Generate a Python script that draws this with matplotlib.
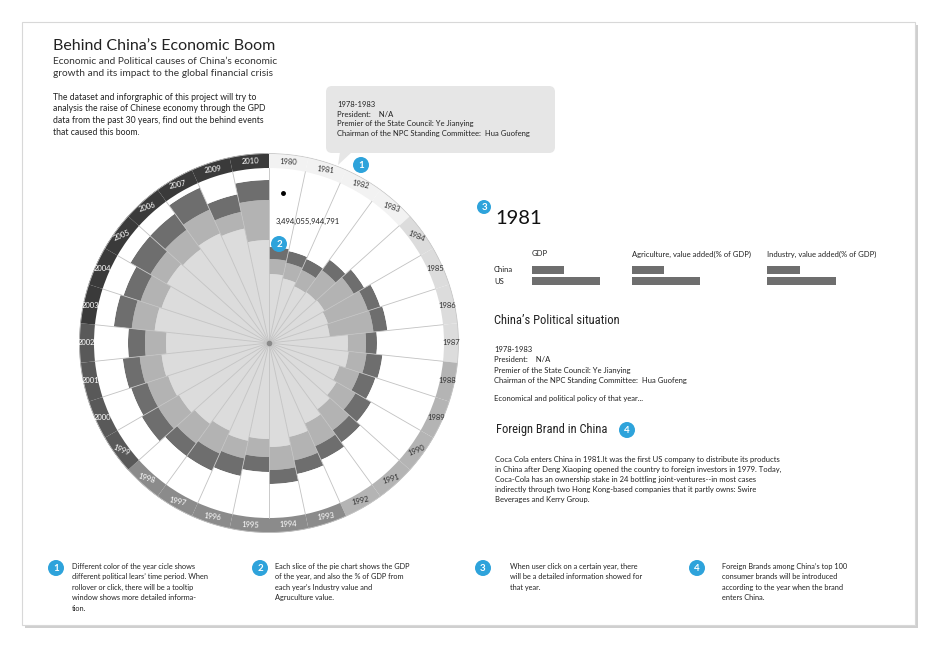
import numpy as np
import matplotlib.pyplot as plt
from matplotlib.patches import Rectangle, Circle, FancyBboxPatch, Polygon
from matplotlib import font_manager

plt.rcParams['font.family'] = ['Lato', 'DejaVu Sans']
names = {f.name for f in font_manager.fontManager.ttflist}
narrow = [n for n in ['Liberation Sans Narrow', 'DejaVu Sans Condensed', 'Roboto Condensed',
                      'Open Sans Condensed'] if n in names]
NARROW = narrow[:1] + ['Lato', 'DejaVu Sans']

# ring labels (the original skips 2008)
years = ['1980', '1981', '1982', '1983', '1984', '1985', '1986', '1987',
         '1988', '1989', '1990', '1991', '1992', '1993', '1994', '1995',
         '1996', '1997', '1998', '1999', '2000', '2001', '2002', '2003',
         '2004', '2005', '2006', '2007', '2009', '2010']
# cumulative radii of the three stacked layers (agriculture, industry, gdp)
inner_r = [69, 66, 62, 63, 64, 62, 61, 79, 80, 74, 78, 82, 88, 96, 104,
           96, 100, 96, 100, 104, 106, 108, 103, 115, 113, 118, 116, 120, 117, 103]
middle_r = [84, 82, 80, 90, 98, 104, 105, 97, 98, 95, 100, 108, 113, 120, 127,
            114, 118, 121, 124, 128, 128, 130, 124, 138, 135, 137, 140, 146, 134, 143]
outer_r = [96, 94, 92, 103, 110, 117, 119, 108, 114, 112, 118, 123, 128, 134, 141,
           129, 136, 140, 140, 147, 145, 147, 141, 156, 153, 160, 160, 170, 152, 163]
# political period of each year (index into period_colors)
period = [0] * 4 + [1] * 4 + [2] * 5 + [3] * 6 + [4] * 4 + [5] * 7
period_colors = ['#f2f2f2', '#dcdcdc', '#b4b4b4', '#8b8b8b', '#595959', '#3a3a3a']
period_text = ['#333333', '#333333', '#333333', 'white', 'white', 'white']

# 1981 comparison bars
bar_cols = ['GDP', 'Agriculture, value added(% of GDP)', 'Industry, value added(% of GDP)']
china_vals = [32, 32, 33]
us_vals = [68, 68, 69]

BLUE = '#2ea3db'
RING_IN, RING_OUT = 175, 190

fig = plt.figure(figsize=(9.4, 6.5), dpi=100)
fig.patch.set_facecolor('white')

bg = fig.add_axes([0, 0, 1, 1])
bg.set_xlim(0, 940)
bg.set_ylim(650, 0)
bg.axis('off')
bg.add_patch(Rectangle((25, 25), 893, 603, fc='#cfcfcf', ec='none'))
bg.add_patch(Rectangle((22, 22), 893, 603, fc='white', ec='#d8d8d8', lw=0.8))

# polar chart
cx, cy = 269, 343
pax = fig.add_axes([(cx - RING_OUT) / 940, (650 - cy - RING_OUT) / 650,
                    2 * RING_OUT / 940, 2 * RING_OUT / 650], projection='polar')
pax.set_theta_zero_location('N')
pax.set_theta_direction(-1)
pax.set_ylim(0, RING_OUT)
pax.axis('off')
pax.patch.set_alpha(0)

n = len(years)
w = 2 * np.pi / n
theta = (np.arange(n) + 0.5) * w
inner = np.array(inner_r)
middle = np.array(middle_r)
outer = np.array(outer_r)
pax.bar(theta, inner, width=w, color='#dcdcdc', edgecolor='none')
pax.bar(theta, middle - inner, bottom=inner, width=w, color='#b3b3b3', edgecolor='none')
pax.bar(theta, outer - middle, bottom=middle, width=w, color='#6e6e6e', edgecolor='none')
pax.bar(theta, RING_IN - outer, bottom=outer, width=w, color='white', edgecolor='none')
for b in np.arange(n) * w:
    pax.plot([b, b], [0, RING_IN], color='#c2c2c2', lw=0.6)
pax.bar(theta, RING_OUT - RING_IN, bottom=RING_IN, width=w,
        color=[period_colors[p] for p in period], edgecolor='none')
t = np.linspace(0, 2 * np.pi, 400)
pax.plot(t, np.full_like(t, RING_OUT - 0.5), color='#c8c8c8', lw=0.6)
for th, lab, p in zip(theta, years, period):
    tang = (-np.degrees(th) + 90) % 180 - 90
    rot = 0.42 * tang if abs(tang) <= 56 else 0
    pax.text(th, 182.5, lab, ha='center', va='center', fontsize=5.5,
             color=period_text[p], rotation=rot, rotation_mode='anchor')
pax.plot(0, 0, 'o', ms=3, color='#8a8a8a')

ov = fig.add_axes([0, 0, 1, 1])
ov.set_xlim(0, 940)
ov.set_ylim(650, 0)
ov.axis('off')
ov.patch.set_alpha(0)

# header texts
ov.text(53, 46, "Behind China\u2019s Economic Boom", fontsize=11.5, color='#222222', va='center')
ov.text(53, 61, "Economic and Political causes of China\u2019s economic", fontsize=7.3,
        color='#333333', va='center')
ov.text(53, 74, "growth and its impact to the global financial crisis", fontsize=7.3,
        color='#333333', va='center')
intro = ["The dataset and inforgraphic of this project will try to",
         "analysis the raise of Chinese economy through the GPD",
         "data from the past 30 years, find out the behind events",
         "that caused this boom."]
for i, line in enumerate(intro):
    ov.text(53, 97 + i * 11.7, line, fontsize=6.2, color='#222222', va='center')

# tooltip
ov.add_patch(FancyBboxPatch((326, 86), 229, 67, boxstyle='round,pad=0,rounding_size=6',
                            fc='#e6e6e6', ec='none'))
ov.add_patch(Polygon([(340, 152), (352, 152), (338, 165)], closed=True, fc='#e6e6e6', ec='none'))
tip = ["1978-1983", "President:    N/A",
       "Premier of the State Council: Ye Jianying",
       "Chairman of the NPC Standing Committee:  Hua Guofeng"]
for i, line in enumerate(tip):
    ov.text(337, 104.5 + i * 9.6, line, fontsize=5.5, color='#222222', va='center')

# annotation inside 1980 slice
ov.plot(283, 193, 'o', ms=2.5, color='black')
ov.text(276, 221, "3,494,055,944,791", fontsize=5.5, color='#222222', va='center')


def badge(x, y, num, r=8):
    ov.add_patch(Circle((x, y), r, fc=BLUE, ec='none'))
    ov.text(x, y + 0.5, str(num), ha='center', va='center', fontsize=7,
            color='white', fontweight='bold')


badge(361, 165, 1)
badge(279, 244, 2)
badge(484, 207, 3, r=7)
badge(627, 430, 4)

# right panel
ov.text(495, 219, "1981", fontsize=14.5, color='#111111', va='center')
col_x = [531.7, 632.3, 766.7]
for x, lab in zip(col_x, bar_cols):
    ov.text(x, 254, lab, fontsize=5.5, color='#222222', va='center')
ov.text(494, 270, "China", fontsize=5.5, color='#222222', va='center')
ov.text(494, 281, "US", fontsize=5.5, color='#222222', va='center')
for x, c, u in zip(col_x, china_vals, us_vals):
    bax = fig.add_axes([x / 940, (650 - 286.4) / 650, 100 / 940, 21.4 / 650])
    bax.barh([0, 1], [c, u], height=0.72, color='#6e6e6e')
    bax.set_xlim(0, 100)
    bax.set_ylim(1.5, -0.5)
    bax.axis('off')

head_size = 9.0 if narrow else 8.3
ov.text(494, 320, "China\u2019s Political situation", fontsize=head_size, color='#222222',
        va='center', family=NARROW)
for i, line in enumerate(tip):
    ov.text(494, 350 + i * 10, line, fontsize=5.5, color='#222222', va='center')
ov.text(494, 398, "Economical and political policy of that year...", fontsize=5.5,
        color='#222222', va='center')

ov.text(496, 430, "Foreign Brand in China", fontsize=head_size, color='#222222',
        va='center', family=NARROW)
coke = ["Coca Cola enters China in 1981.It was the first US company to distribute its products",
        "in China after Deng Xiaoping opened the country to foreign investors in 1979. Today,",
        "Coca-Cola has an ownership stake in 24 bottling joint-ventures--in most cases",
        "indirectly through two Hong Kong-based companies that it partly owns: Swire",
        "Beverages and Kerry Group."]
for i, line in enumerate(coke):
    ov.text(495, 459.5 + i * 10.1, line, fontsize=5.5, color='#222222', va='center')

# bottom notes
notes = [
    (56, 72, ["Different color of the year cicle shows",
              "different political lears\u2019 time period. When",
              "rollover or click, there will be a tooltip",
              "window shows more detailed informa-",
              "tion."]),
    (260, 275, ["Each slice of the pie chart shows the GDP",
                "of the year, and also the % of GDP from",
                "each year\u2019s Industry value and",
                "Agruculture value."]),
    (483, 510, ["When user click on a certain year, there",
                "will be a detailed information showed for",
                "that year."]),
    (697, 722, ["Foreign Brands among China\u2019s top 100",
                "consumer brands will be introduced",
                "according to the year when the brand",
                "enters China."]),
]
for i, (bx, tx, lines) in enumerate(notes):
    badge(bx, 568, i + 1)
    for j, line in enumerate(lines):
        ov.text(tx, 566 + j * 10.6, line, fontsize=5.3, color='#222222', va='center')

fig.savefig('out.png', dpi=100, facecolor='white')
